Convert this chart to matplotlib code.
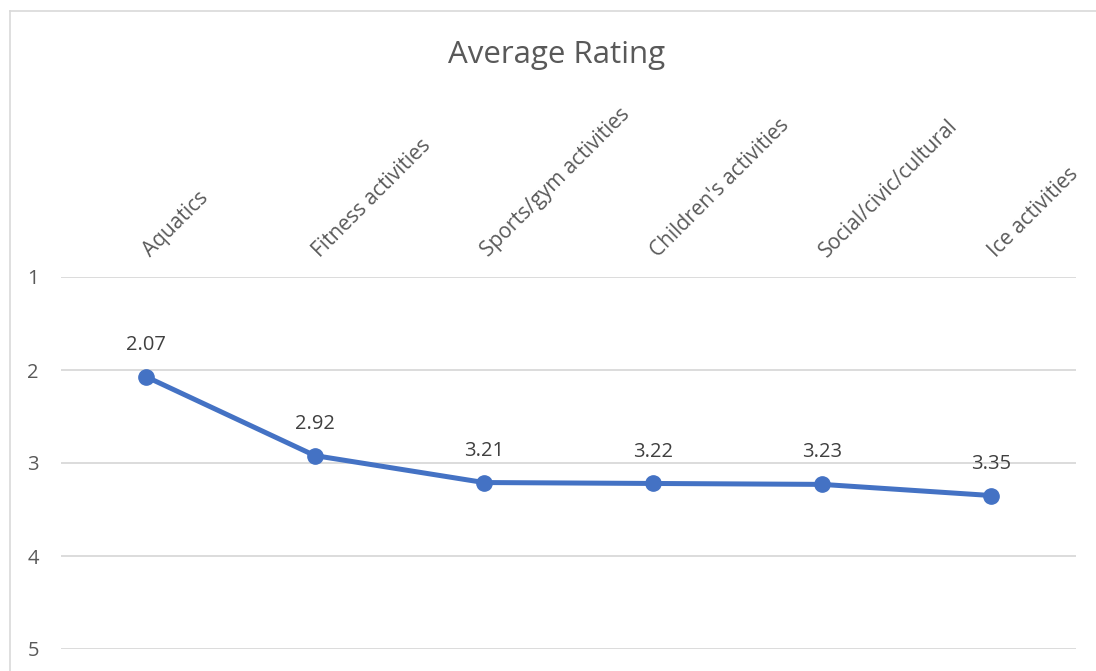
import matplotlib
matplotlib.use("Agg")
import matplotlib.pyplot as plt
from matplotlib.lines import Line2D

plt.rcParams['font.family'] = ['Open Sans', 'DejaVu Sans']

categories = ["Aquatics", "Fitness activities", "Sports/gym activities",
              "Children's activities", "Social/civic/cultural", "Ice activities"]
ratings = [2.07, 2.92, 3.21, 3.22, 3.23, 3.35]
y_ticks = [1, 2, 3, 4, 5]

W, H = 1096, 671
fig = plt.figure(figsize=(W / 100, H / 100), dpi=100)
ax = fig.add_axes([61 / W, 22 / H, (1076 - 61) / W, (649 - 277) / H])

x = list(range(len(categories)))
ax.plot(x, ratings, color="#4472C4", linewidth=3.6, marker="o", markersize=11,
        solid_capstyle="round", zorder=3)

for xi, v in zip(x, ratings):
    ax.annotate(f"{v:.2f}", (xi, v), xytext=(0, 23), textcoords="offset points",
                ha="center", va="center", fontsize=14.5, color="#404040")

# category labels sit above the plot, rotated
for xi, name in zip(x, categories):
    ax.annotate(name, (xi, 1), xytext=(3.5, 14), textcoords="offset points",
                ha="left", va="baseline", rotation=45, rotation_mode="anchor",
                fontsize=15, color="#595959", annotation_clip=False)

ax.set_xlim(-0.5, len(categories) - 0.5)
ax.set_ylim(5, 1)
ax.set_yticks(y_ticks)
ax.set_yticklabels([str(t) for t in y_ticks])
ax.set_xticks([])
ax.tick_params(axis="y", length=0, pad=16, labelsize=14.5, labelcolor="#595959")
for s in ax.spines.values():
    s.set_visible(False)
ax.grid(axis="y", color="#D9D9D9", linewidth=1.3)
ax.set_axisbelow(True)

fig.text(557 / W, 1 - 63 / H, "Average Rating", ha="center", va="baseline",
         fontsize=22.5, color="#595959")

# chart border (left and top edges visible in the crop)
bx, by = 9.5 / W, 1 - 10.5 / H
fig.add_artist(Line2D([bx, bx], [0, by], transform=fig.transFigure, color="#D9D9D9", linewidth=1.2))
fig.add_artist(Line2D([bx, 1], [by, by], transform=fig.transFigure, color="#D9D9D9", linewidth=1.2))

fig.savefig("out.png", dpi=100, facecolor="white")
